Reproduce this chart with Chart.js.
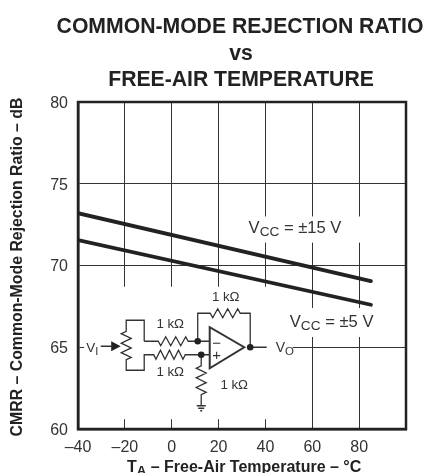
<!DOCTYPE html>
<html>
<head>
<meta charset="utf-8">
<style>
  html, body { margin: 0; padding: 0; background: #fff; }
  #wrap { width: 427px; height: 473px; }
</style>
<script src="https://cdn.jsdelivr.net/npm/chart.js@4"></script>
</head>
<body>
<div id="wrap"><canvas id="cmrrChart" width="427" height="473"></canvas></div>
<script>
// Chart data
const tempEnds = [-40, 85];
const cmrr15 = [73.2, 69.05];
const cmrr5 = [71.55, 67.6];
const xTickValues = [-40, -20, 0, 20, 40, 60, 80, 100];
const yTickValues = [60, 65, 70, 75, 80];
const titleLines = ["COMMON-MODE REJECTION RATIO", "vs", "FREE-AIR TEMPERATURE"];
const yTitle = "CMRR \u2013 Common-Mode Rejection Ratio \u2013 dB";

const FONT = '"Liberation Sans", Arial, sans-serif';
const INK = "#222";

// Pieces of grid hidden behind the labels and the circuit: [x0, x1, y0, y1] in axis units
const gridGaps = [
  [-37.4, 51.6, 60.6, 68.7],
  [33.6, 85, 71.4, 73.0],
  [48.6, 91, 65.63, 67.4],
];

// Text with a subscript part, drawn run by run: [text, isSub]
function drawRuns(ctx, runs, x, y, size, weight) {
  ctx.textAlign = "left";
  ctx.textBaseline = "alphabetic";
  runs.forEach(([txt, sub]) => {
    const s = sub ? size * 0.82 : size;
    ctx.font = `${weight} ${s}px ${FONT}`;
    ctx.fillText(txt, x, sub ? y + 3 : y);
    x += ctx.measureText(txt).width;
  });
}

function zigzag(ctx, x0, y0, x1, y1, n, amp) {
  // resistor symbol between two points
  const dx = (x1 - x0) / n, dy = (y1 - y0) / n;
  const len = Math.hypot(dx, dy);
  const nx = -dy / len, ny = dx / len;
  for (let i = 0; i < n; i++) {
    const sign = i % 2 ? -1 : 1;
    ctx.lineTo(x0 + dx * (i + 0.5) + nx * amp * sign, y0 + dy * (i + 0.5) + ny * amp * sign);
  }
  ctx.lineTo(x1, y1);
}

const gridGapPlugin = {
  id: "gridGaps",
  beforeDatasetsDraw(chart) {
    const { ctx, scales: { x, y } } = chart;
    ctx.save();
    ctx.fillStyle = "#fff";
    gridGaps.forEach(([a, b, c, d]) => {
      const px = x.getPixelForValue(a), qx = x.getPixelForValue(b);
      const py = y.getPixelForValue(d), qy = y.getPixelForValue(c);
      ctx.fillRect(px, py, qx - px, qy - py);
    });
    const a = chart.chartArea;
    ctx.strokeStyle = INK;
    ctx.lineWidth = 2.5;
    ctx.strokeRect(a.left, a.top, a.right - a.left, a.bottom - a.top);
    ctx.restore();
  },
};

const annotationPlugin = {
  id: "annotations",
  afterDraw(chart) {
    const { ctx, scales: { x, y } } = chart;
    // circuit offsets are measured from the 0 degree / 65 dB crossing
    const ox = x.getPixelForValue(0), oy = y.getPixelForValue(65);
    ctx.save();

    // titles: Chart.js squeezes a long title to the box width, so they are set here
    ctx.fillStyle = INK;
    ctx.textAlign = "center";
    ctx.textBaseline = "alphabetic";
    ctx.font = `bold 21.2px ${FONT}`;
    ctx.fillText(titleLines[0], 240, 32.5);
    ctx.fillText(titleLines[1], 241, 59.5);
    ctx.fillText(titleLines[2], 241, 86);

    ctx.save();
    ctx.translate(17.5, 267);
    ctx.rotate(-Math.PI / 2);
    ctx.textBaseline = "middle";
    ctx.font = `bold 15.85px ${FONT}`;
    ctx.fillText(yTitle, 0, 0);
    ctx.restore();

    drawRuns(ctx, [["T"], ["A", true], [" \u2013 Free-Air Temperature \u2013 \u00b0C"]], 127, 472, 16, "bold");

    ctx.fillStyle = "#333";
    drawRuns(ctx, [["V"], ["CC", true], [" = \u00b115 V"]], x.getPixelForValue(32.8), y.getPixelForValue(72), 16.6, "normal");
    drawRuns(ctx, [["V"], ["CC", true], [" = \u00b15 V"]], x.getPixelForValue(50.4), y.getPixelForValue(66.25), 16.6, "normal");

    ctx.translate(ox, oy);
    ctx.strokeStyle = "#333";
    ctx.lineWidth = 1.3;
    ctx.lineJoin = "miter";
    ctx.beginPath();
    // potentiometer and its loop
    ctx.moveTo(-27.5, -6); ctx.lineTo(-27.5, -27); ctx.lineTo(-45.5, -27); ctx.lineTo(-45.5, -16);
    zigzag(ctx, -45.5, -16, -45.5, 12.5, 6, 5);
    ctx.lineTo(-45.5, 23); ctx.lineTo(-27.5, 23); ctx.lineTo(-27.5, 7.5); ctx.lineTo(-18, 7.5);
    // lower input resistor
    zigzag(ctx, -18, 7.5, 13.5, 7.5, 7, 4.5);
    ctx.lineTo(38, 7.5);
    // upper input resistor
    ctx.moveTo(-27.5, -6); ctx.lineTo(-13.5, -6);
    zigzag(ctx, -13.5, -6, 16.5, -6, 6, 4.5);
    ctx.lineTo(38, -6);
    // feedback
    ctx.moveTo(26, -6); ctx.lineTo(26, -34); ctx.lineTo(38.5, -34);
    zigzag(ctx, 38.5, -34, 68.5, -34, 6, 4.5);
    ctx.lineTo(78.5, -34); ctx.lineTo(78.5, 0); ctx.lineTo(95, 0);
    // resistor to ground
    ctx.moveTo(29.5, 7.5); ctx.lineTo(29.5, 18.5);
    zigzag(ctx, 29.5, 18.5, 29.5, 47.5, 6, 5);
    ctx.lineTo(29.5, 58);
    ctx.moveTo(25, 58.5); ctx.lineTo(34, 58.5);
    ctx.moveTo(26.5, 61); ctx.lineTo(32.5, 61);
    ctx.moveTo(28.5, 63.5); ctx.lineTo(30.5, 63.5);
    // input wire
    ctx.moveTo(-71, -1); ctx.lineTo(-60, -1);
    ctx.stroke();

    // op amp body
    ctx.lineWidth = 2;
    ctx.beginPath();
    ctx.moveTo(38, -20); ctx.lineTo(38, 21); ctx.lineTo(72.5, 0); ctx.closePath();
    ctx.stroke();

    ctx.fillStyle = "#222";
    [[26, -6], [29.5, 7.5], [78.5, 0]].forEach(([cx, cy]) => {
      ctx.beginPath();
      ctx.arc(cx, cy, 3.3, 0, Math.PI * 2);
      ctx.fill();
    });
    // wiper arrow
    ctx.beginPath();
    ctx.moveTo(-60.5, -6); ctx.lineTo(-60.5, 4); ctx.lineTo(-51, -1); ctx.closePath();
    ctx.fill();

    ctx.fillStyle = "#333";
    ctx.textAlign = "center";
    ctx.textBaseline = "middle";
    ctx.font = `15px ${FONT}`;
    ctx.fillText("\u2212", 45, -3.5);
    ctx.fillText("+", 45, 9);
    ctx.font = `13.3px ${FONT}`;
    ctx.fillText("1 k\u03a9", -1.5, -22.5);
    ctx.fillText("1 k\u03a9", -1.5, 25.5);
    ctx.fillText("1 k\u03a9", 54, -49.5);
    ctx.fillText("1 k\u03a9", 62.5, 38.5);
    drawRuns(ctx, [["V"], ["I", true]], -85.5, 5, 13.5, "normal");
    drawRuns(ctx, [["V"], ["O", true]], 104, 5, 14, "normal");
    ctx.restore();
  },
};

const ctx = document.getElementById("cmrrChart").getContext("2d");
new Chart(ctx, {
  type: "line",
  data: {
    datasets: [
      { label: "VCC = \u00b115 V", data: tempEnds.map((t, i) => ({ x: t, y: cmrr15[i] })) },
      { label: "VCC = \u00b15 V", data: tempEnds.map((t, i) => ({ x: t, y: cmrr5[i] })) },
    ],
  },
  plugins: [gridGapPlugin, annotationPlugin],
  options: {
    responsive: false,
    animation: false,
    layout: { padding: { top: 102, right: 21, bottom: 0, left: 0 } },
    elements: {
      point: { radius: 0 },
      line: { borderColor: INK, borderWidth: 3.8, borderCapStyle: "round", tension: 0 },
    },
    plugins: {
      legend: { display: false },
      tooltip: { enabled: false },
      title: { display: false },
    },
    scales: {
      x: {
        type: "linear",
        min: -40,
        max: 100,
        afterBuildTicks: (s) => { s.ticks = xTickValues.map((v) => ({ value: v })); },
        afterFit: (s) => { s.height = 44; },
        grid: { color: "#333", lineWidth: 1, drawTicks: false },
        border: { color: INK, width: 2.5 },
        ticks: {
          color: "#333",
          padding: 9,
          maxRotation: 0,
          autoSkip: false,
          font: { family: FONT, size: 16 },
          callback: (v) => (v === 100 ? "" : String(v).replace("-", "\u2013")),
        },
      },
      y: {
        min: 60,
        max: 80,
        afterBuildTicks: (s) => { s.ticks = yTickValues.map((v) => ({ value: v })); },
        afterFit: (s) => { s.width = 78; },
        grid: { color: "#333", lineWidth: 1, drawTicks: false },
        border: { color: INK, width: 2.5 },
        ticks: { color: "#333", padding: 10, labelOffset: 1.5, font: { family: FONT, size: 16 } },
      },
    },
  },
});
</script>
</body>
</html>
